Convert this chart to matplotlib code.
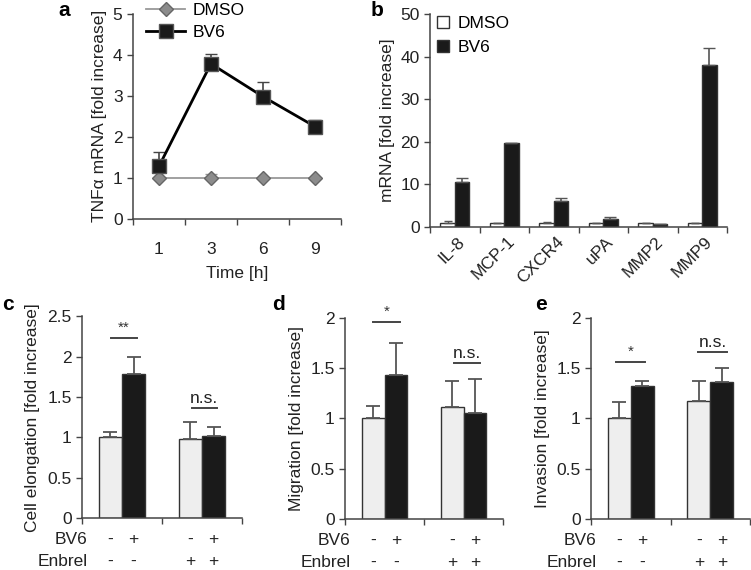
import numpy as np
import matplotlib
matplotlib.use("Agg")
import matplotlib.pyplot as plt
from matplotlib.lines import Line2D

plt.rcParams['font.family'] = ['Liberation Sans', 'DejaVu Sans']
plt.rcParams['font.size'] = 12

# panel a: TNFa time course
time_labels = ['1', '3', '6', '9']
a_dmso = [1.0, 1.0, 1.0, 1.0]
a_dmso_err = [0.0, 0.1, 0.0, 0.0]
a_bv6 = [1.28, 3.78, 2.98, 2.25]
a_bv6_err = [0.34, 0.24, 0.35, 0.17]

# panel b: mRNA of genes
genes = ['IL-8', 'MCP-1', 'CXCR4', 'uPA', 'MMP2', 'MMP9']
b_dmso = [1.0, 1.0, 1.0, 1.0, 1.0, 1.0]
b_dmso_err = [0.5, 0.0, 0.15, 0.0, 0.0, 0.0]
b_bv6 = [10.5, 19.7, 6.2, 1.9, 0.8, 38.0]
b_bv6_err = [1.0, 0.1, 0.6, 0.5, 0.0, 4.0]

# panels c-e: light = BV6 -, dark = BV6 +; groups: no Enbrel / Enbrel
bv6_row = ['-', '+', '-', '+']
enbrel_row = ['-', '-', '+', '+']

c_light = [1.0, 0.98]
c_light_err = [0.06, 0.21]
c_dark = [1.79, 1.01]
c_dark_err = [0.21, 0.12]

d_light = [1.0, 1.11]
d_light_err = [0.12, 0.26]
d_dark = [1.43, 1.05]
d_dark_err = [0.32, 0.34]

e_light = [1.0, 1.17]
e_light_err = [0.16, 0.20]
e_dark = [1.32, 1.36]
e_dark_err = [0.05, 0.14]

LIGHT = '#eeeeee'
DARK = '#1a1a1a'
EDGE = '#333333'
AXC = '#444444'

fig = plt.figure(figsize=(7.51, 5.70), dpi=100)


def style_axes(ax):
    for s in ['top', 'right']:
        ax.spines[s].set_visible(False)
    for s in ['left', 'bottom']:
        ax.spines[s].set_color(AXC)
        ax.spines[s].set_linewidth(1.1)
    ax.tick_params(colors=AXC, labelcolor='#222222', length=4, width=1.0,
                   labelsize=12.5)


# ---- panel a ----
ax = fig.add_axes([0.177, 0.616, 0.277, 0.360])
style_axes(ax)
x = np.arange(len(time_labels))
ax.errorbar(x, a_dmso, yerr=[np.zeros(4), a_dmso_err], color='#999999',
            lw=1.3, marker='D', markersize=7.5, markerfacecolor='#8c8c8c',
            markeredgecolor='#666666', capsize=4, elinewidth=1.0, zorder=2)
ax.errorbar(x, a_bv6, yerr=[np.zeros(4), a_bv6_err], color='black',
            lw=2.0, marker='s', markersize=10, markerfacecolor='#1a1a1a',
            markeredgecolor='#555555', capsize=4, elinewidth=1.2,
            ecolor='#444444', zorder=3)
ax.set_xlim(-0.5, 3.5)
ax.set_ylim(0, 5)
ax.set_yticks(range(6))
ax.set_xticks(x)
ax.set_xticklabels(time_labels)
ax.set_xticks(np.arange(-0.5, 4, 1), minor=True)
ax.tick_params(axis='x', which='major', length=0, pad=17)
ax.tick_params(axis='x', which='minor', length=4, width=1.0, colors=AXC)
ax.set_ylabel(u'TNF\u03b1 mRNA [fold increase]', fontsize=12.5, color='#222222')
ax.set_xlabel('Time [h]', fontsize=12.5, color='#222222', labelpad=6)
handles = [Line2D([], [], color='#999999', lw=1.3, marker='D', markersize=7.5,
                  markerfacecolor='#8c8c8c', markeredgecolor='#666666'),
           Line2D([], [], color='black', lw=2.0, marker='s', markersize=10,
                  markerfacecolor='#1a1a1a', markeredgecolor='#555555')]
fig.legend(handles, ['DMSO', 'BV6'], loc='upper left',
           bbox_to_anchor=(0.173, 1.022), frameon=False, fontsize=12.5,
           handlelength=2.3, handletextpad=0.4, labelspacing=0.4)
fig.text(0.078, 0.982, 'a', fontsize=15, fontweight='bold', ha='left', va='center')

# ---- panel b ----
ax = fig.add_axes([0.5726, 0.6018, 0.3955, 0.3737])
style_axes(ax)
x = np.arange(len(genes))
w = 0.29
ax.bar(x - w / 2, b_dmso, w, color='white', edgecolor=EDGE, linewidth=1.0,
       yerr=[np.zeros(6), b_dmso_err], capsize=3,
       error_kw=dict(ecolor='#555555', elinewidth=1.0))
ax.bar(x + w / 2, b_bv6, w, color=DARK, edgecolor=EDGE, linewidth=1.0,
       yerr=[np.zeros(6), b_bv6_err], capsize=4,
       error_kw=dict(ecolor='#555555', elinewidth=1.2))
ax.set_xlim(-0.5, 5.5)
ax.set_ylim(0, 50)
ax.set_yticks(range(0, 51, 10))
ax.set_xticks(x + 0.05)
ax.set_xticklabels(genes, rotation=45, ha='right', rotation_mode='anchor')
ax.set_xticks(np.arange(-0.5, 6, 1), minor=True)
ax.tick_params(axis='x', which='major', length=0, pad=5)
ax.tick_params(axis='x', which='minor', length=4, width=1.0, colors=AXC)
ax.set_ylabel('mRNA [fold increase]', fontsize=12.5, color='#222222')
handles = [Line2D([], [], ls='none', marker='s', markersize=8,
                  markerfacecolor='white', markeredgecolor=EDGE),
           Line2D([], [], ls='none', marker='s', markersize=8,
                  markerfacecolor=DARK, markeredgecolor=EDGE)]
fig.legend(handles, ['DMSO', 'BV6'], loc='upper left',
           bbox_to_anchor=(0.56, 1.0), frameon=False, fontsize=12.5,
           handlelength=0.8, handletextpad=0.45, labelspacing=0.5)
fig.text(0.493, 0.982, 'b', fontsize=15, fontweight='bold', ha='left', va='center')


# ---- panels c-e ----
def function_panel(rect, light, light_err, dark, dark_err, ymax, yticks,
                   ylabel, letter, letter_x, sig, sig_y, sig_x,
                   ns_y, ns_x):
    ax = fig.add_axes(rect)
    style_axes(ax)
    g = np.arange(2)
    bw = 0.29
    ax.bar(g - bw / 2, light, bw, color=LIGHT, edgecolor=EDGE, linewidth=1.0,
           yerr=[np.zeros(2), light_err], capsize=5,
           error_kw=dict(ecolor='#555555', elinewidth=1.3, capthick=1.3))
    ax.bar(g + bw / 2, dark, bw, color=DARK, edgecolor=EDGE, linewidth=1.0,
           yerr=[np.zeros(2), dark_err], capsize=5,
           error_kw=dict(ecolor='#555555', elinewidth=1.3, capthick=1.3))
    ax.set_xlim(-0.5, 1.5)
    ax.set_ylim(0, ymax)
    ax.set_yticks(yticks)
    ax.set_yticklabels([('%g' % t) for t in yticks])
    ax.set_xticks([-0.5, 0.5, 1.5])
    ax.set_xticklabels([])
    ax.set_ylabel(ylabel, fontsize=12.5, color='#222222', labelpad=4)
    ax.yaxis.set_label_coords(-0.26, 0.5)
    # significance lines (first group, then second group at x = 1)
    ax.plot(sig_x, [sig_y, sig_y], color='#444444', lw=1.4, clip_on=False)
    ax.text(np.mean(sig_x), sig_y + ymax * 0.015, sig, ha='center',
            va='bottom', fontsize=11, color='#333333')
    ns_x = [1 + v for v in ns_x]
    ax.plot(ns_x, [ns_y, ns_y], color='#444444', lw=1.4, clip_on=False)
    ax.text(np.mean(ns_x), ns_y + ymax * 0.012, 'n.s.', ha='center',
            va='bottom', fontsize=12.5, color='#222222')
    # treatment rows
    trans = ax.get_xaxis_transform()
    pos = [-bw / 2, bw / 2, 1 - bw / 2, 1 + bw / 2]
    ax.text(-0.43, -0.105, 'BV6', transform=trans, ha='right', va='center',
            fontsize=12.5, color='#222222')
    ax.text(-0.43, -0.215, 'Enbrel', transform=trans, ha='right', va='center',
            fontsize=12.5, color='#222222')
    for p, s1, s2 in zip(pos, bv6_row, enbrel_row):
        ax.text(p, -0.105, s1, transform=trans, ha='center', va='center',
                fontsize=12.5, color='#222222')
        ax.text(p, -0.215, s2, transform=trans, ha='center', va='center',
                fontsize=12.5, color='#222222')
    fig.text(letter_x, 0.465, letter, fontsize=15, fontweight='bold',
             ha='left', va='center')
    return ax


function_panel([0.1092, 0.0912, 0.213, 0.354], c_light, c_light_err,
               c_dark, c_dark_err, 2.5, [0, 0.5, 1, 1.5, 2, 2.5],
               'Cell elongation [fold increase]', 'c', 0.003,
               '**', 2.23, [-0.14, 0.19], 1.36, [-0.13, 0.19])
function_panel([0.4594, 0.0895, 0.2104, 0.3526], d_light, d_light_err,
               d_dark, d_dark_err, 2, [0, 0.5, 1, 1.5, 2],
               'Migration [fold increase]', 'd', 0.362,
               '*', 1.96, [-0.15, 0.2], 1.55, [-0.12, 0.21])
function_panel([0.787, 0.0895, 0.2117, 0.3526], e_light, e_light_err,
               e_dark, e_dark_err, 2, [0, 0.5, 1, 1.5, 2],
               'Invasion [fold increase]', 'e', 0.713,
               '*', 1.56, [-0.19, 0.18], 1.66, [-0.15, 0.21])

fig.savefig('out.png', dpi=100)
